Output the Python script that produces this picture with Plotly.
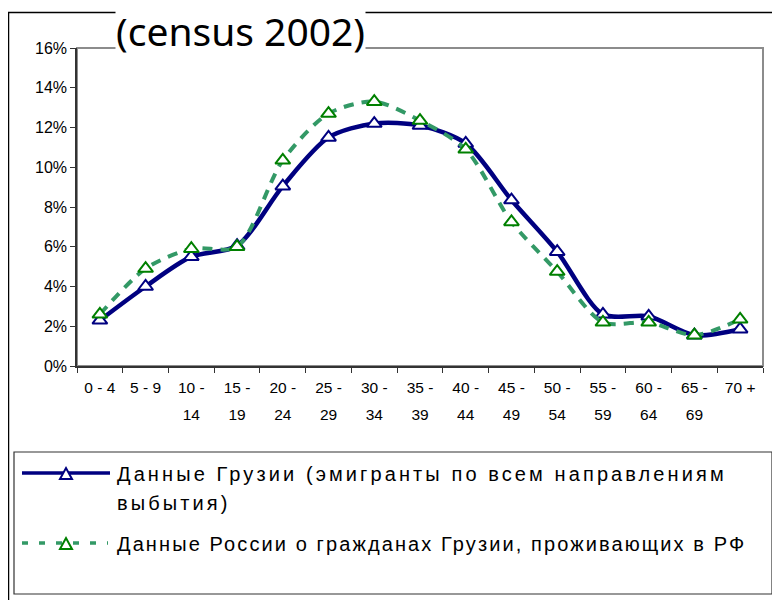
import plotly.graph_objects as go

# age groups and shares (%)
age_groups = ["0 - 4", "5 - 9", "10 - 14", "15 - 19", "20 - 24", "25 - 29", "30 - 34",
              "35 - 39", "40 - 44", "45 - 49", "50 - 54", "55 - 59", "60 - 64", "65 - 69", "70 +"]
georgia = [2.3, 4.0, 5.5, 6.05, 9.05, 11.5, 12.2, 12.1, 11.2, 8.35, 5.75, 2.6, 2.5, 1.55, 1.85]
russia = [2.6, 4.9, 5.9, 6.0, 10.35, 12.7, 13.3, 12.35, 10.9, 7.25, 4.75, 2.2, 2.2, 1.55, 2.35]

name_georgia = "Данные Грузии (эмигранты по всем направлениям<br>выбытия)"
name_russia = "Данные России о гражданах Грузии, проживающих в РФ"

navy = "#000080"
green = "#008000"
green_line = "#339966"

# page has an 8px body margin, so work in screen pixels and shift
OFF = 8
W, H = 780 - OFF, 600 - OFF
L, R, T, B = 77, 763, 48, 366   # plot area on screen


def px_x(x):
    return (x - L) / (R - L)


def px_y(y):
    return (B - y) / (B - T)


# two-line tick labels, wide line spacing like the original
def tick_label(s):
    parts = s.split(" - ")
    if len(parts) == 2 and len(parts[0]) > 1:
        s = parts[0] + " -<br>" + parts[1]
    return "<span style='font-size:15.5px'>" + s.replace("<br>", "</span><br><span style='font-size:15.5px'>") + "</span>"


fig = go.Figure()
fig.add_trace(go.Scatter(
    x=age_groups, y=[v / 100 for v in georgia], name=name_georgia,
    mode="lines+markers", line=dict(color=navy, width=4.5, shape="spline", smoothing=0.8),
    marker=dict(symbol="triangle-up", size=13, color="white", line=dict(color=navy, width=2)),
))
fig.add_trace(go.Scatter(
    x=age_groups, y=[v / 100 for v in russia], name=name_russia,
    mode="lines+markers",
    line=dict(color=green_line, width=4, dash="10px,8px", shape="spline", smoothing=0.8),
    marker=dict(symbol="triangle-up", size=13, color="white", line=dict(color=green, width=2)),
))

shapes = []
# outer chart frame
shapes.append(dict(type="rect", xref="paper", yref="paper",
                   x0=px_x(8.5), x1=px_x(800), y0=px_y(620), y1=px_y(12.5),
                   line=dict(color="black", width=1.5), layer="below"))
# plot area frame (grey)
shapes.append(dict(type="rect", xref="paper", yref="paper", x0=0, x1=1, y0=0, y1=1,
                   line=dict(color="#8c8c8c", width=2), layer="below"))
# legend box
shapes.append(dict(type="rect", xref="paper", yref="paper",
                   x0=px_x(14), x1=px_x(772), y0=px_y(594), y1=px_y(452),
                   line=dict(color="#333333", width=1.2), fillcolor="white", layer="below"))
# legend samples
shapes.append(dict(type="line", xref="paper", yref="paper",
                   x0=px_x(22), x1=px_x(110), y0=px_y(473), y1=px_y(473),
                   line=dict(color=navy, width=3.5)))
shapes.append(dict(type="line", xref="paper", yref="paper",
                   x0=px_x(22), x1=px_x(108), y0=px_y(543), y1=px_y(543),
                   line=dict(color=green_line, width=3.5, dash="6px,11px")))


def tri(cx, cy, color):
    pts = [(cx - 6, cy + 5), (cx + 6, cy + 5), (cx, cy - 6)]
    path = "M " + " L ".join(f"{px_x(a):.5f},{px_y(b):.5f}" for a, b in pts) + " Z"
    return dict(type="path", xref="paper", yref="paper", path=path,
                fillcolor="white", line=dict(color=color, width=2))


shapes.append(tri(66, 474, navy))
shapes.append(tri(66, 544, green))


def legend_text(s, spacing):
    return "<br>".join(f"<span style='font-size:20px;letter-spacing:{spacing}px'>" + p + "</span>"
                       for p in s.split("<br>"))


legend_font = dict(family="Liberation Sans", size=22, color="black")
annotations = [
    dict(text="(census 2002)", x=px_x(240), y=px_y(31), xref="paper", yref="paper",
         showarrow=False, xanchor="center", yanchor="middle", bgcolor="white", borderpad=0,
         font=dict(family="Noto Sans", size=39, color="black")),
    dict(text=legend_text(name_georgia, 3.1), x=px_x(115), y=px_y(461), xref="paper", yref="paper",
         showarrow=False, xanchor="left", yanchor="top", align="left", font=legend_font),
    dict(text=legend_text(name_russia, 2.1), x=px_x(115), y=px_y(544), xref="paper", yref="paper",
         showarrow=False, xanchor="left", yanchor="middle", align="left", font=legend_font),
]

fig.update_layout(
    width=W, height=H,
    margin=dict(l=L - OFF, r=780 - R, t=T - OFF, b=600 - B, autoexpand=False),
    paper_bgcolor="white", plot_bgcolor="white",
    showlegend=False,
    shapes=shapes, annotations=annotations,
    font=dict(family="Liberation Sans", size=14, color="black"),
)
fig.update_xaxes(
    type="category", tickson="boundaries", ticks="outside", ticklen=5,
    tickcolor="#333333", showline=True, linecolor="#333333", linewidth=1.5,
    showgrid=False, range=[-0.5, len(age_groups) - 0.5],
    tickmode="array", tickvals=age_groups, ticktext=[tick_label(a) for a in age_groups],
    tickfont=dict(size=21), tickangle=0, automargin=False,
)
fig.update_yaxes(
    range=[0, 0.16], dtick=0.02, tickformat=".0%", ticks="outside", ticklen=5,
    tickcolor="#333333", showline=True, linecolor="#333333", linewidth=1.5,
    showgrid=False, zeroline=False, tickfont=dict(size=16), automargin=False,
)

fig.write_html("out.html")
